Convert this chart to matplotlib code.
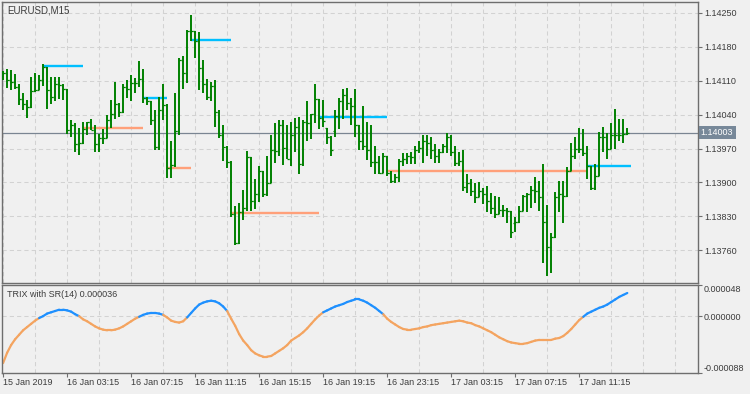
#!/usr/bin/env python3

import numpy as np
import matplotlib
matplotlib.use('Agg')
import matplotlib.pyplot as plt
from matplotlib.collections import LineCollection
from matplotlib.ticker import FormatStrFormatter

plt.rcParams['font.family'] = ['Liberation Sans', 'DejaVu Sans']

symbol = 'EURUSD,M15'
indicator_name = 'TRIX with SR(14) 0.000036'

# one label every 16 bars (4 hours of M15 bars)
time_labels = ['15 Jan 2019', '16 Jan 03:15', '16 Jan 07:15', '16 Jan 11:15',
               '16 Jan 15:15', '16 Jan 19:15', '16 Jan 23:15', '17 Jan 03:15',
               '17 Jan 07:15', '17 Jan 11:15']

bar_open = [
    1.14127, 1.14127, 1.14111, 1.14108, 1.14098, 1.14073, 1.14063, 1.14055, 1.14088, 1.14090,
    1.14111, 1.14139, 1.14090, 1.14077, 1.14104, 1.14102, 1.14092, 1.14009, 1.14018, 1.13980,
    1.13982, 1.14011, 1.14024, 1.14009, 1.13980, 1.13991, 1.13991, 1.14028, 1.14042, 1.14061,
    1.14046, 1.14098, 1.14092, 1.14106, 1.14106, 1.14113, 1.14075, 1.14069, 1.14028, 1.13974,
    1.14049, 1.14059, 1.13929, 1.13937, 1.14007, 1.14152, 1.14125, 1.14212, 1.14212, 1.14193,
    1.14137, 1.14104, 1.14077, 1.14100, 1.14046, 1.13997, 1.13974, 1.13943, 1.13835, 1.13776,
    1.13838, 1.13848, 1.13953, 1.13862, 1.13877, 1.13924, 1.13877, 1.13898, 1.13966, 1.13964,
    1.14018, 1.13972, 1.13949, 1.13997, 1.14015, 1.13939, 1.14024, 1.14022, 1.14042, 1.14073,
    1.14034, 1.14013, 1.13993, 1.14007, 1.14038, 1.14069, 1.14080, 1.14065, 1.14057, 1.14018,
    1.13986, 1.13976, 1.13966, 1.13943, 1.13943, 1.13920, 1.13955, 1.13920, 1.13902, 1.13912,
    1.13945, 1.13949, 1.13955, 1.13953, 1.13966, 1.13972, 1.13986, 1.13982, 1.13966, 1.13955,
    1.13962, 1.13976, 1.13993, 1.13962, 1.13941, 1.13945, 1.13891, 1.13898, 1.13883, 1.13869,
    1.13883, 1.13877, 1.13862, 1.13848, 1.13835, 1.13844, 1.13844, 1.13842, 1.13817, 1.13819,
    1.13842, 1.13873, 1.13877, 1.13885, 1.13883, 1.13869, 1.13819, 1.13767, 1.13788, 1.13869,
    1.13877, 1.13871, 1.13924, 1.13955, 1.13970, 1.13970, 1.13960, 1.13933, 1.13889, 1.13914,
    1.13993, 1.13993, 1.13970, 1.13997, 1.13997, 1.13997, 1.14001]

bar_high = [
    1.14131, 1.14135, 1.14133, 1.14123, 1.14104, 1.14084, 1.14071, 1.14117, 1.14125, 1.14121,
    1.14144, 1.14139, 1.14117, 1.14117, 1.14117, 1.14104, 1.14094, 1.14028, 1.14022, 1.14013,
    1.14024, 1.14024, 1.14030, 1.14018, 1.14001, 1.14011, 1.14040, 1.14071, 1.14108, 1.14065,
    1.14104, 1.14111, 1.14121, 1.14115, 1.14150, 1.14135, 1.14077, 1.14069, 1.14049, 1.14077,
    1.14104, 1.14063, 1.13986, 1.14084, 1.14156, 1.14162, 1.14214, 1.14245, 1.14212, 1.14210,
    1.14152, 1.14113, 1.14108, 1.14111, 1.14049, 1.14018, 1.13976, 1.13945, 1.13852, 1.13858,
    1.13885, 1.13964, 1.13953, 1.13908, 1.13935, 1.13924, 1.13955, 1.13999, 1.14022, 1.14028,
    1.14028, 1.14018, 1.14024, 1.14034, 1.14036, 1.14028, 1.14069, 1.14042, 1.14104, 1.14073,
    1.14071, 1.14013, 1.13995, 1.14049, 1.14075, 1.14094, 1.14096, 1.14075, 1.14092, 1.14018,
    1.14057, 1.14024, 1.14018, 1.13976, 1.13955, 1.13960, 1.13955, 1.13924, 1.13918, 1.13949,
    1.13960, 1.13960, 1.13962, 1.13976, 1.13986, 1.13999, 1.13997, 1.13993, 1.13980, 1.13970,
    1.13980, 1.14003, 1.13999, 1.13976, 1.13962, 1.13966, 1.13918, 1.13908, 1.13898, 1.13900,
    1.13889, 1.13893, 1.13879, 1.13873, 1.13869, 1.13854, 1.13848, 1.13842, 1.13829, 1.13852,
    1.13875, 1.13879, 1.13893, 1.13912, 1.13904, 1.13939, 1.13854, 1.13796, 1.13881, 1.13904,
    1.13904, 1.13931, 1.13982, 1.13993, 1.14013, 1.14011, 1.13976, 1.13933, 1.13939, 1.14005,
    1.14015, 1.14003, 1.14022, 1.14051, 1.14032, 1.14032, 1.14013]

bar_low = [
    1.14111, 1.14096, 1.14090, 1.14092, 1.14059, 1.14049, 1.14034, 1.14053, 1.14086, 1.14090,
    1.14100, 1.14051, 1.14061, 1.14069, 1.14073, 1.14071, 1.14001, 1.13993, 1.13962, 1.13957,
    1.13980, 1.13997, 1.14009, 1.13962, 1.13962, 1.13980, 1.13991, 1.14013, 1.14032, 1.14036,
    1.14044, 1.14075, 1.14069, 1.14084, 1.14098, 1.14065, 1.14059, 1.14018, 1.13966, 1.13966,
    1.14028, 1.13910, 1.13910, 1.13931, 1.13997, 1.14094, 1.14106, 1.14193, 1.14156, 1.14090,
    1.14084, 1.14071, 1.14069, 1.14015, 1.13991, 1.13945, 1.13929, 1.13829, 1.13771, 1.13773,
    1.13823, 1.13842, 1.13842, 1.13846, 1.13860, 1.13869, 1.13873, 1.13898, 1.13941, 1.13955,
    1.13937, 1.13949, 1.13933, 1.13962, 1.13918, 1.13935, 1.13986, 1.13989, 1.14022, 1.14011,
    1.14015, 1.13980, 1.13955, 1.13993, 1.14011, 1.14032, 1.14049, 1.14018, 1.13993, 1.13966,
    1.13968, 1.13947, 1.13931, 1.13918, 1.13918, 1.13920, 1.13914, 1.13898, 1.13898, 1.13900,
    1.13935, 1.13939, 1.13939, 1.13939, 1.13960, 1.13941, 1.13955, 1.13949, 1.13941, 1.13941,
    1.13960, 1.13960, 1.13955, 1.13935, 1.13935, 1.13883, 1.13879, 1.13873, 1.13858, 1.13869,
    1.13856, 1.13840, 1.13835, 1.13827, 1.13835, 1.13829, 1.13817, 1.13786, 1.13798, 1.13817,
    1.13842, 1.13838, 1.13848, 1.13858, 1.13842, 1.13734, 1.13707, 1.13714, 1.13786, 1.13838,
    1.13817, 1.13869, 1.13924, 1.13949, 1.13960, 1.13955, 1.13908, 1.13885, 1.13885, 1.13914,
    1.13962, 1.13949, 1.13970, 1.13970, 1.13986, 1.13982, 1.13997]

bar_close = [
    1.14127, 1.14111, 1.14108, 1.14098, 1.14073, 1.14063, 1.14055, 1.14088, 1.14090, 1.14111,
    1.14139, 1.14090, 1.14077, 1.14104, 1.14102, 1.14092, 1.14009, 1.14018, 1.13980, 1.13982,
    1.14011, 1.14024, 1.14009, 1.13980, 1.13991, 1.13991, 1.14028, 1.14042, 1.14061, 1.14046,
    1.14098, 1.14092, 1.14106, 1.14106, 1.14113, 1.14075, 1.14069, 1.14028, 1.13974, 1.14049,
    1.14059, 1.13929, 1.13937, 1.14007, 1.14152, 1.14125, 1.14212, 1.14212, 1.14193, 1.14137,
    1.14104, 1.14077, 1.14100, 1.14046, 1.13997, 1.13974, 1.13943, 1.13835, 1.13776, 1.13838,
    1.13848, 1.13953, 1.13862, 1.13877, 1.13924, 1.13877, 1.13898, 1.13966, 1.13964, 1.14018,
    1.13972, 1.13949, 1.13997, 1.14015, 1.13939, 1.14024, 1.14022, 1.14042, 1.14073, 1.14034,
    1.14026, 1.13993, 1.13966, 1.14038, 1.14069, 1.14080, 1.14065, 1.14057, 1.14018, 1.13986,
    1.13976, 1.13966, 1.13943, 1.13943, 1.13920, 1.13955, 1.13920, 1.13902, 1.13912, 1.13945,
    1.13949, 1.13955, 1.13953, 1.13966, 1.13972, 1.13986, 1.13982, 1.13966, 1.13955, 1.13962,
    1.13976, 1.13993, 1.13962, 1.13941, 1.13945, 1.13891, 1.13898, 1.13883, 1.13869, 1.13883,
    1.13877, 1.13862, 1.13848, 1.13835, 1.13844, 1.13844, 1.13842, 1.13798, 1.13819, 1.13842,
    1.13873, 1.13877, 1.13885, 1.13883, 1.13869, 1.13819, 1.13767, 1.13788, 1.13869, 1.13877,
    1.13871, 1.13924, 1.13955, 1.13970, 1.13970, 1.13960, 1.13933, 1.13889, 1.13914, 1.13993,
    1.13993, 1.13970, 1.13997, 1.13997, 1.13997, 1.14001, 1.14003]

last_price = 1.14003
price_ticks = [1.13760, 1.13830, 1.13900, 1.13970, 1.14040, 1.14110, 1.14180, 1.14250]

# support / resistance segments (bar index from, bar index to, level)
sr_start = [10, 20, 35, 41, 47, 57, 79, 96, 146]
sr_end = [20, 35, 41, 47, 57, 79, 96, 146, 157]
sr_level = [1.14140, 1.14012, 1.14074, 1.13929, 1.14194, 1.13836, 1.14035, 1.13923, 1.13934]
sr_kind = ['res', 'sup', 'res', 'sup', 'res', 'sup', 'res', 'sup', 'res']

# TRIX in millionths
trix_micro = [
    -73, -57, -45, -36, -29, -22, -17, -12, -7, -3,
    0, 4, 6, 8, 10, 10, 9, 7, 3, 0,
    -5, -8, -12, -16, -19, -21, -22, -22, -21, -19,
    -16, -12, -8, -4, -1, 2, 4, 5, 5, 4,
    2, -2, -7, -9, -10, -8, -2, 5, 12, 18,
    21, 23, 24, 23, 20, 15, 8, -4, -15, -28,
    -38, -45, -53, -58, -61, -63, -63, -62, -58, -54,
    -50, -45, -38, -34, -30, -25, -19, -12, -5, 1,
    6, 9, 12, 15, 17, 19, 22, 24, 26, 26,
    24, 21, 17, 13, 8, 3, -4, -9, -13, -17,
    -20, -21, -21, -20, -19, -17, -16, -14, -13, -12,
    -11, -10, -9, -8, -7, -8, -10, -11, -14, -16,
    -19, -22, -25, -29, -33, -36, -39, -41, -42, -43,
    -43, -42, -40, -38, -37, -37, -37, -37, -35, -34,
    -31, -26, -20, -13, -6, -1, 4, 7, 10, 13,
    15, 18, 22, 26, 30, 33, 36]
trix_up_start = [9, 34, 46, 80, 145]
trix_up_end = [19, 40, 56, 95, 156]
trix_ticks = [-0.000088, 0.0, 0.000048]

BG = '#f0f0f0'
GRID = '#d2d2d2'
FRAME = '#6e6e6e'
TEXT = '#3c3c3c'
BAR = '#008000'
RES = '#00bfff'
SUP = '#ffa07a'
UP = '#1e90ff'
DOWN = '#f4a460'


def style_axis(ax):
    ax.set_facecolor(BG)
    for s in ax.spines.values():
        s.set_color(FRAME)
        s.set_linewidth(1.0)
    ax.set_xlim(-0.2, 173.6)
    ax.yaxis.tick_right()
    ax.tick_params(axis='y', direction='out', length=3, width=0.8, color=FRAME,
                   labelsize=6.5, labelcolor=TEXT, pad=1.5)
    ax.set_xticks(np.arange(0, 174, 8), minor=True)
    ax.grid(True, which='minor', axis='x', color=GRID, lw=0.75, ls=(0, (4, 3)))
    ax.grid(True, which='major', axis='y', color=GRID, lw=0.75, ls=(0, (4, 3)))
    ax.tick_params(axis='x', which='minor', length=0)
    ax.set_axisbelow(True)


def main():
    fig = plt.figure(figsize=(7.5, 3.94), dpi=100, facecolor=BG)
    ax_1 = fig.add_axes([0.00307, 0.28249, 0.92720, 0.71168])
    ax_2 = fig.add_axes([0.00307, 0.05406, 0.92720, 0.22183])

    idx = np.arange(len(bar_open))

    # price panel
    style_axis(ax_1)
    ax_1.set_ylim(1.13693, 1.14272)
    ax_1.set_yticks(price_ticks)
    ax_1.yaxis.set_major_formatter(FormatStrFormatter('%.5f'))
    ax_1.set_xticks([])
    ax_1.axhline(last_price, color='#7a8592', lw=0.9, zorder=1)
    for a, b, lev, kind in zip(sr_start, sr_end, sr_level, sr_kind):
        ax_1.hlines(lev, a, b, color=RES if kind == 'res' else SUP, lw=1.7, zorder=2)
    ax_1.vlines(idx, bar_low, bar_high, color=BAR, lw=1.4, zorder=3)
    ax_1.hlines(bar_open, idx - 0.5, idx, color=BAR, lw=0.9, zorder=3)
    ax_1.hlines(bar_close, idx, idx + 0.5, color=BAR, lw=0.9, zorder=3)
    ax_1.annotate('%.5f' % last_price, xy=(1, last_price),
                  xycoords=('axes fraction', 'data'), xytext=(2.2, 0),
                  textcoords='offset points', va='center', ha='left',
                  fontsize=6.5, color='white', annotation_clip=False,
                  bbox=dict(boxstyle='square,pad=0.25', fc='#778899', ec='none'))
    ax_1.text(0.0065, 0.99, symbol, transform=ax_1.transAxes, va='top', ha='left',
              fontsize=7, color=TEXT)

    # TRIX panel
    style_axis(ax_2)
    ax_2.set_ylim(trix_ticks[0], trix_ticks[-1])
    ax_2.set_yticks(trix_ticks)
    ax_2.yaxis.set_major_formatter(FormatStrFormatter('%.6f'))
    labels = ax_2.get_yticklabels()
    labels[0].set_va('bottom')
    labels[-1].set_va('top')
    ax_2.grid(False, which='major', axis='y')
    ax_2.axhline(0, color=GRID, lw=0.75, ls=(0, (4, 3)), zorder=0)

    trix = np.array(trix_micro) * 1e-6
    up = np.zeros(len(trix) - 1, dtype=bool)
    for a, b in zip(trix_up_start, trix_up_end):
        up[a:b] = True
    pts = np.column_stack([idx, trix])
    segs = np.stack([pts[:-1], pts[1:]], axis=1)
    lc = LineCollection(segs, colors=[UP if u else DOWN for u in up], linewidths=1.6,
                        capstyle='round')
    ax_2.add_collection(lc)
    ax_2.text(0.0065, 0.95, indicator_name, transform=ax_2.transAxes, va='top',
              ha='left', fontsize=6.5, color=TEXT)

    ax_2.set_xticks(np.arange(0, 16 * len(time_labels), 16))
    ax_2.set_xticklabels(time_labels, ha='left')
    ax_2.tick_params(axis='x', which='major', direction='out', length=3, width=0.8,
                     color=FRAME, labelsize=6.5, labelcolor=TEXT, pad=1)

    fig.savefig('out.png', dpi=100, facecolor=BG)


if __name__ == "__main__":
    main()
